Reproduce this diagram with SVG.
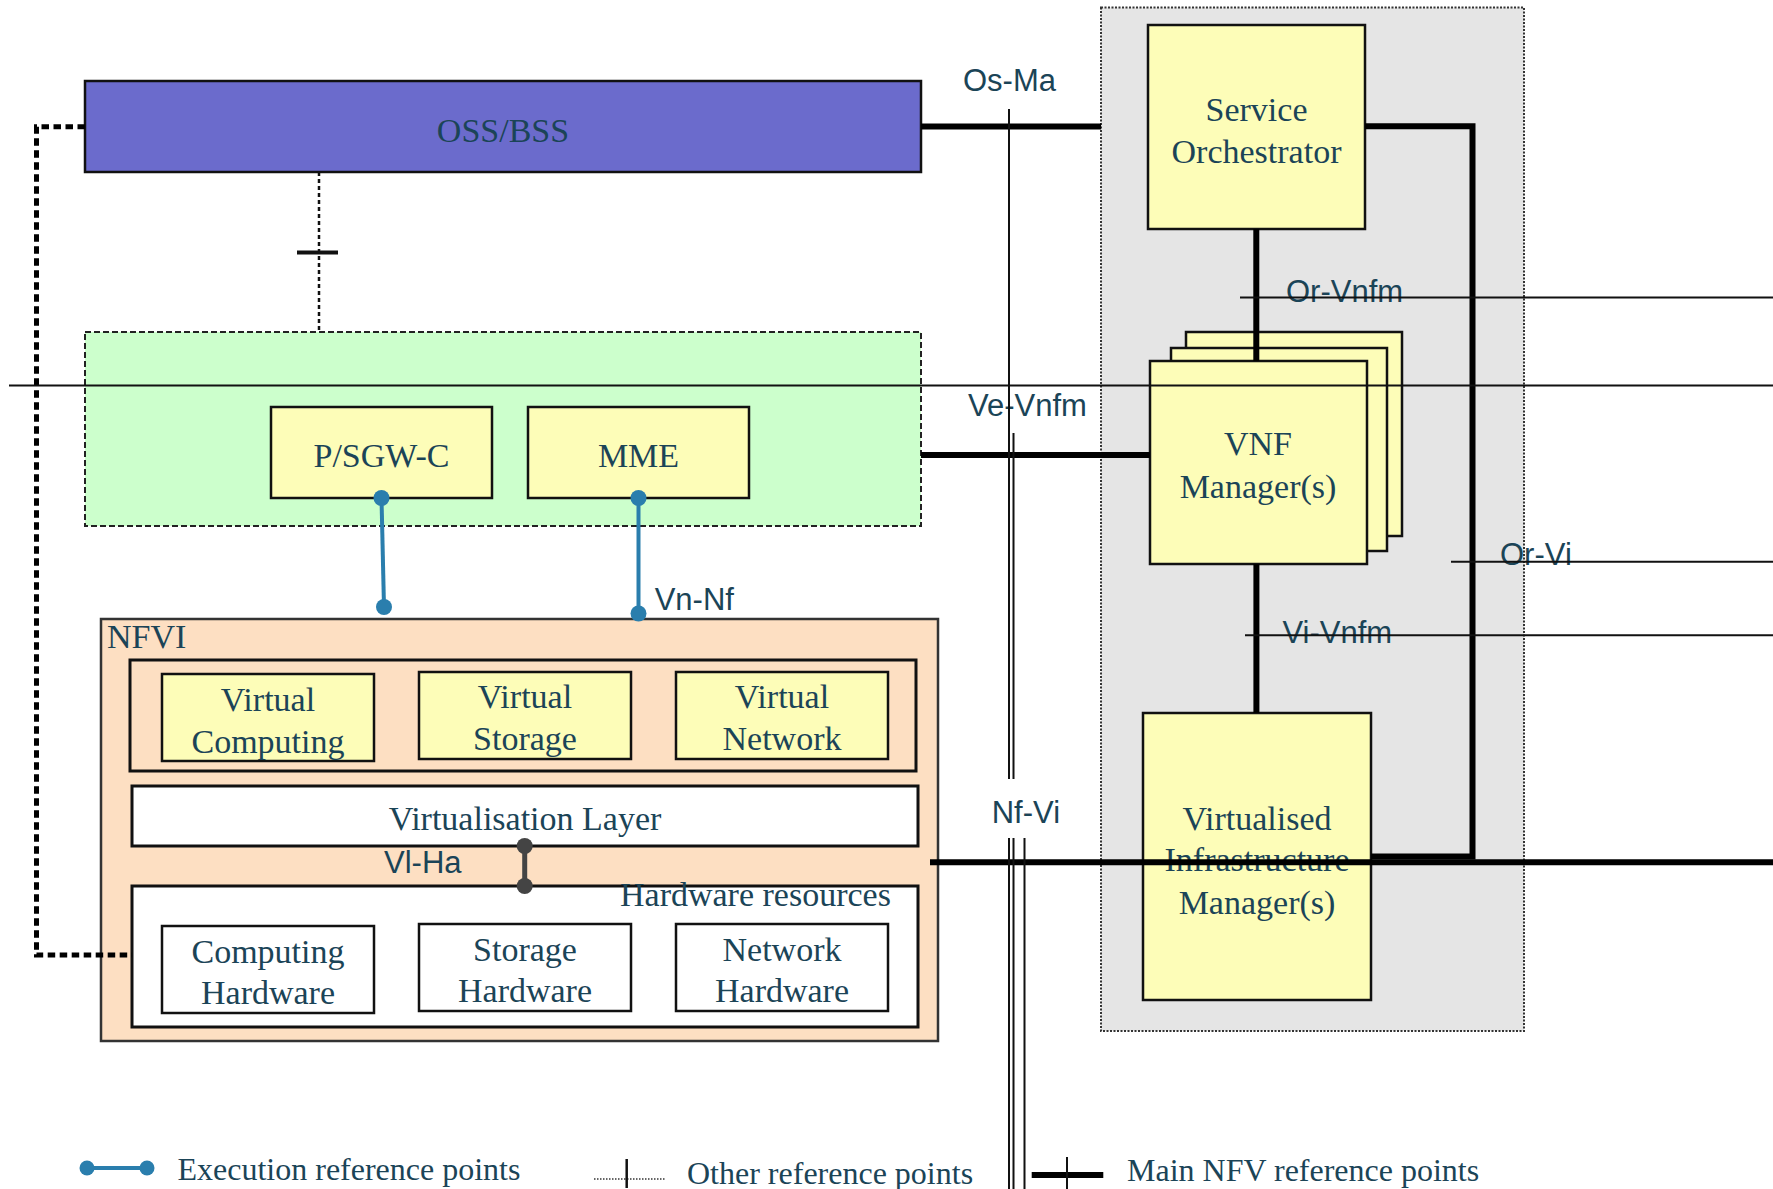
<svg xmlns="http://www.w3.org/2000/svg" width="1773" height="1189" viewBox="0 0 1773 1189">
<style>
.serif{font-family:"Liberation Serif","Times New Roman",serif;font-size:34px;fill:#1b4457}
.sans{font-family:"Liberation Sans",Arial,sans-serif;font-size:31px;fill:#1b4457}
.leg{font-family:"Liberation Serif","Times New Roman",serif;font-size:32px;fill:#1b4457}
.mid{text-anchor:middle}
.box{stroke:#111;stroke-width:2.5}
.yellow{fill:#fdfdb8}
.white{fill:#ffffff}
.peach{fill:#fddfc2}
.thick{stroke:#000;stroke-width:6;fill:none}
.thin{stroke:#111;stroke-width:2;fill:none}
.exec{stroke:#2a7ead;stroke-width:4;fill:none}
.execdot{fill:#2a7ead}
.vlha{stroke:#444;stroke-width:5;fill:none}
.vlhadot{fill:#444}
</style>
<rect width="1773" height="1189" fill="#ffffff"/>

<g id="mano">
<rect x="1101" y="7.5" width="423" height="1023.5" fill="#e5e5e5" stroke="#333" stroke-width="2" stroke-dasharray="2 1.5"/>
</g>

<g id="oss-bss">
<rect class="box" x="85" y="81" width="836" height="91" fill="#6b6bcc"/>
<text class="serif mid" x="503" y="141.5">OSS/BSS</text>
</g>

<g id="vnf-domain">
<rect x="85" y="332" width="836" height="194" fill="#ccffcc" stroke="#222" stroke-width="2" stroke-dasharray="6 3"/>
</g>

<g id="psgw-c">
<rect class="box yellow" x="271" y="407" width="221" height="91"/>
<text class="serif mid" x="381.5" y="466.5">P/SGW-C</text>
</g>

<g id="mme">
<rect class="box yellow" x="528" y="407" width="221" height="91"/>
<text class="serif mid" x="638.5" y="466.5">MME</text>
</g>

<g id="nfvi">
<rect class="peach" x="101" y="619" width="837" height="422" stroke="#333" stroke-width="2.5"/>
<text class="serif" x="107" y="648">NFVI</text>
</g>

<g id="virtual-resources">
<rect class="peach" x="130" y="660" width="786" height="111" stroke="#111" stroke-width="3"/>
</g>

<g id="virtual-computing">
<rect class="box yellow" x="162" y="674" width="212" height="87"/>
<text class="serif mid" x="268" y="710.5">Virtual</text>
<text class="serif mid" x="268" y="752.5">Computing</text>
</g>

<g id="virtual-storage">
<rect class="box yellow" x="419" y="672" width="212" height="87"/>
<text class="serif mid" x="525" y="708.3">Virtual</text>
<text class="serif mid" x="525" y="750">Storage</text>
</g>

<g id="virtual-network">
<rect class="box yellow" x="676" y="672" width="212" height="87"/>
<text class="serif mid" x="782" y="708.3">Virtual</text>
<text class="serif mid" x="782" y="750">Network</text>
</g>

<g id="virtualisation-layer">
<rect class="white" x="132" y="786" width="786" height="60" stroke="#111" stroke-width="3"/>
<text class="serif mid" x="525" y="830">Virtualisation Layer</text>
</g>

<g id="hardware-resources">
<rect class="white" x="132" y="886" width="786" height="141" stroke="#111" stroke-width="3"/>
<text class="serif" x="620" y="906">Hardware resources</text>
</g>

<g id="computing-hardware">
<rect class="box white" x="162" y="926" width="212" height="87"/>
<text class="serif mid" x="268" y="963.3">Computing</text>
<text class="serif mid" x="268" y="1004">Hardware</text>
</g>

<g id="storage-hardware">
<rect class="box white" x="419" y="924" width="212" height="87"/>
<text class="serif mid" x="525" y="961">Storage</text>
<text class="serif mid" x="525" y="1001.7">Hardware</text>
</g>

<g id="network-hardware">
<rect class="box white" x="676" y="924" width="212" height="87"/>
<text class="serif mid" x="782" y="961">Network</text>
<text class="serif mid" x="782" y="1001.7">Hardware</text>
</g>

<g id="service-orchestrator">
<rect class="box yellow" x="1148" y="25" width="217" height="204"/>
<text class="serif mid" x="1256.5" y="120.5">Service</text>
<text class="serif mid" x="1256.5" y="162.5">Orchestrator</text>
</g>

<g id="vnf-manager">
<rect class="box yellow" x="1186" y="332" width="216" height="204"/>
<rect class="box yellow" x="1171" y="348" width="216" height="203"/>
<rect class="box yellow" x="1150" y="361" width="217" height="203"/>
<text class="serif mid" x="1258" y="455.4">VNF</text>
<text class="serif mid" x="1258" y="497.5">Manager(s)</text>
</g>

<g id="vim">
<rect class="box yellow" x="1143" y="713" width="228" height="287"/>
<text class="serif mid" x="1257" y="829.7">Virtualised</text>
<text class="serif mid" x="1257" y="871">Infrastructure</text>
<text class="serif mid" x="1257" y="914">Manager(s)</text>
</g>

<g id="reference-labels">
<text class="sans" x="963" y="90.7">Os-Ma</text>
<text class="sans" x="1286" y="302.3">Or-Vnfm</text>
<text class="sans" x="968" y="416">Ve-Vnfm</text>
<text class="sans" x="1500" y="564.5">Or-Vi</text>
<text class="sans" x="654.7" y="610">Vn-Nf</text>
<text class="sans" x="1282.5" y="643">Vi-Vnfm</text>
<text class="sans" x="991.7" y="822.7">Nf-Vi</text>
<text class="sans" x="384" y="873">Vl-Ha</text>
</g>

<g id="connectors">
<!-- other reference points -->
<path d="M85,126.7 H36.5 V955 H132" fill="none" stroke="#000" stroke-width="5" stroke-dasharray="7.5 4.5"/>
<path d="M319,172 V332" fill="none" stroke="#111" stroke-width="2.5" stroke-dasharray="4 3"/>
<path d="M297,252.5 H338" stroke="#111" stroke-width="4"/>
<!-- execution reference points -->
<path class="exec" d="M381.5,498 L384,607"/>
<circle class="execdot" cx="381.5" cy="498" r="8"/>
<circle class="execdot" cx="384" cy="607" r="8"/>
<path class="exec" d="M638.5,498 V613.5"/>
<circle class="execdot" cx="638.5" cy="498" r="8"/>
<circle class="execdot" cx="638.5" cy="613.5" r="8"/>
<path class="vlha" d="M524.7,846 V886"/>
<circle class="vlhadot" cx="524.7" cy="846" r="8"/>
<circle class="vlhadot" cx="524.7" cy="886" r="8"/>
<!-- main NFV reference points -->
<path class="thick" d="M921,126.5 H1101"/>
<path class="thick" d="M921,455 H1150"/>
<path class="thick" d="M1256.3,229 V361"/>
<path class="thick" d="M1256.4,564 V713"/>
<path class="thick" d="M1365,126.3 H1472.5 V856.5 H1371"/>
<path class="thick" d="M930,862.3 H1773"/>
<!-- reference point ticks -->
<path class="thin" d="M1009,109 V779 M1009,838 V1189"/>
<path class="thin" d="M1013.5,433 V779 M1013.5,838 V1189"/>
<path class="thin" d="M1024.5,838 V1189"/>
<path class="thin" d="M1240,297.4 H1773"/>
<path class="thin" d="M9,385.5 H1773"/>
<path class="thin" d="M1451,561.8 H1773"/>
<path class="thin" d="M1245,635.2 H1773"/>
</g>

<g id="legend">
<path class="exec" d="M87,1168 H147"/>
<circle class="execdot" cx="87" cy="1168" r="7.5"/>
<circle class="execdot" cx="147" cy="1168" r="7.5"/>
<text class="leg" x="177.5" y="1180">Execution reference points</text>
<path d="M594,1179 H665" stroke="#666" stroke-width="2" stroke-dasharray="1.5 1.5"/>
<path d="M626.7,1159 V1188" stroke="#111" stroke-width="2.5"/>
<text class="leg" x="687" y="1184">Other reference points</text>
<path d="M1031.7,1175 H1103.3" stroke="#000" stroke-width="6"/>
<path d="M1067,1157 V1189" stroke="#111" stroke-width="2"/>
<text class="leg" x="1127" y="1181">Main NFV reference points</text>
</g>
</svg>
